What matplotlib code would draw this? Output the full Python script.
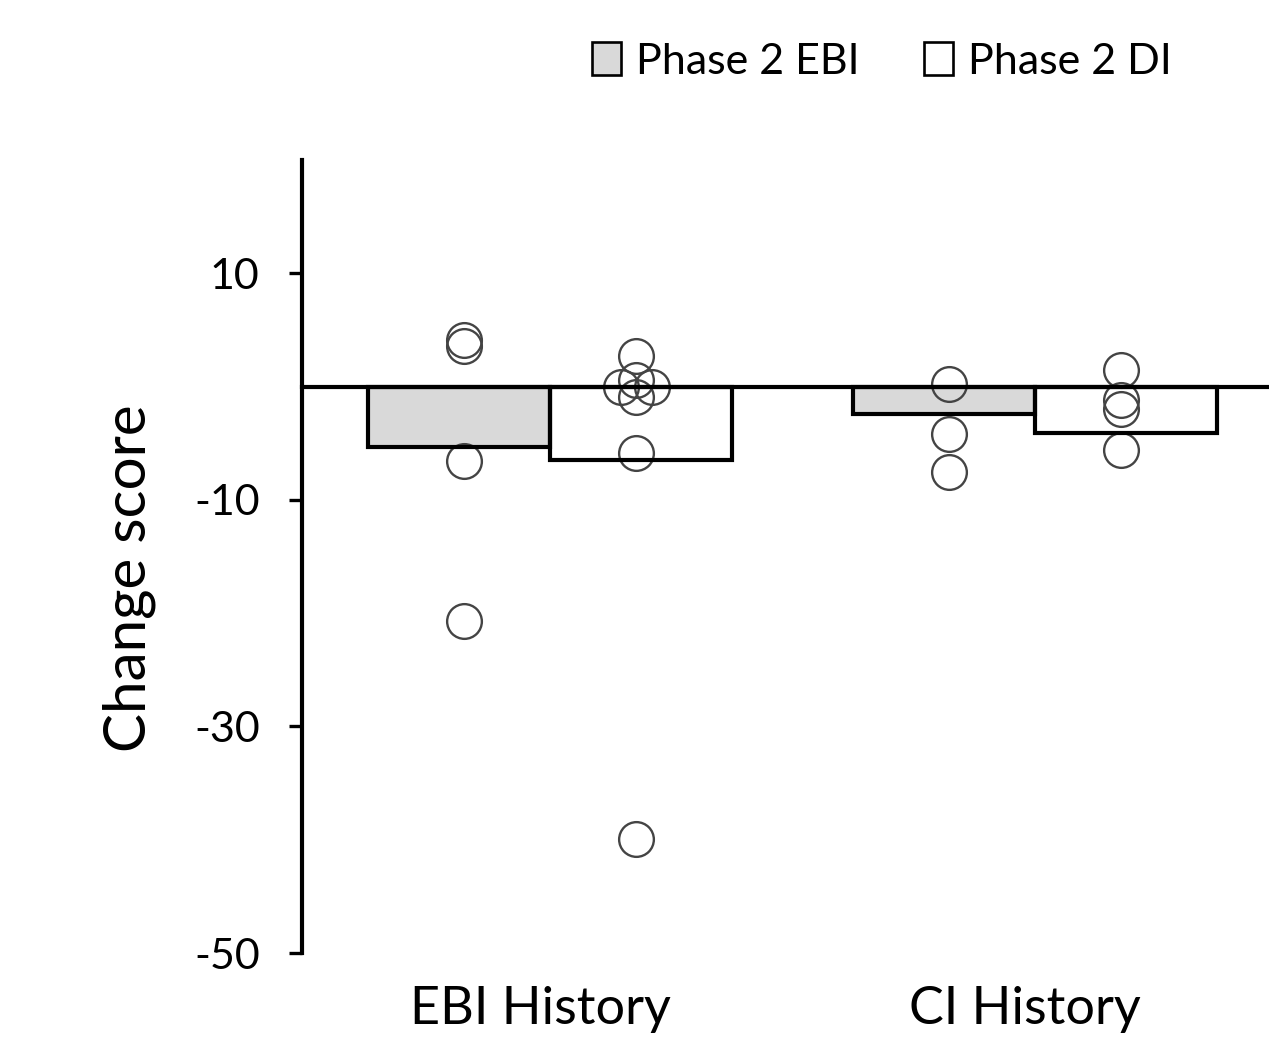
import matplotlib
matplotlib.use('Agg')
import matplotlib.pyplot as plt
from matplotlib.patches import Patch
import numpy as np

plt.rcParams['font.family'] = ['Lato', 'DejaVu Sans']

# Data
groups = ['EBI History', 'CI History']
series = ['Phase 2 EBI', 'Phase 2 DI']
bar_means = {
    'Phase 2 EBI': [-5.3, -2.4],
    'Phase 2 DI': [-6.5, -4.1],
}
# individual scores, per group
pts_ebi_hist_ebi = [4.1, 3.6, -6.6, -20.7]
pts_ebi_hist_di = [2.7, 0.6, 0.0, 0.0, -0.9, -5.9, -39.9]
pts_ci_hist_ebi = [0.2, -4.2, -7.5]
pts_ci_hist_di = [1.5, -1.2, -2.0, -5.6]

y_ticks = [10, -10, -30, -50]

bar_colors = ['#d9d9d9', 'white']
bar_w = 0.376
pt_off = 0.178
dup_spread = 0.032


def spread_x(x0, vals):
    # identical values get pushed sideways so they don't sit on top of each other
    xs = []
    seen = {}
    for v in vals:
        n = seen.get(v, 0)
        seen[v] = n + 1
        cnt = vals.count(v)
        if cnt > 1:
            xs.append(x0 + (n - (cnt - 1) / 2) * 2 * dup_spread)
        else:
            xs.append(x0)
    return xs


fig = plt.figure(figsize=(12.69, 10.41), dpi=100)
ax = fig.add_axes([0.238, 0.0845, 0.762, 0.7618])

x = np.arange(len(groups))
offs = [-bar_w / 2, bar_w / 2]
for i, s in enumerate(series):
    ax.bar(x + offs[i], bar_means[s], bar_w, color=bar_colors[i], edgecolor='none', zorder=1)
    ax.bar(x + offs[i], bar_means[s], bar_w, facecolor='none', edgecolor='black',
           linewidth=3.0, zorder=3)

all_pts = [(0, -1, pts_ebi_hist_ebi), (0, 1, pts_ebi_hist_di),
           (1, -1, pts_ci_hist_ebi), (1, 1, pts_ci_hist_di)]
for g, side, vals in all_pts:
    xs = spread_x(g + side * pt_off, vals)
    ax.plot(xs, vals, 'o', ms=25, mfc='none', mec='#444444', mew=1.7, zorder=2,
            clip_on=False)

ax.axhline(0, color='black', linewidth=3.0, zorder=4, clip_on=False)

ax.set_xlim(-0.5113, 1.4825)
ax.set_ylim(-50, 20)
ax.set_yticks(y_ticks)
ax.set_yticklabels([str(t) for t in y_ticks])
ax.set_xticks(x - 0.02)
ax.set_xticklabels(groups, fontsize=37.5)
ax.tick_params(axis='x', length=0, pad=24)
ax.tick_params(axis='y', length=9.5, width=2.4, pad=21, labelsize=31)

for sp in ['top', 'right', 'bottom']:
    ax.spines[sp].set_visible(False)
ax.spines['left'].set_linewidth(3)

fig.text(0.102, 0.445, 'Change score', rotation=90, ha='center', va='center', fontsize=42)

handles = [Patch(facecolor=bar_colors[i], edgecolor='black', linewidth=1.9) for i in range(2)]
fig.legend(handles, series, loc='center', bbox_to_anchor=(0.695, 0.941), ncol=2,
           frameon=False, fontsize=31, handlelength=0.68, handleheight=0.78,
           handletextpad=0.35, columnspacing=1.5)

fig.savefig('out.png', dpi=100)
